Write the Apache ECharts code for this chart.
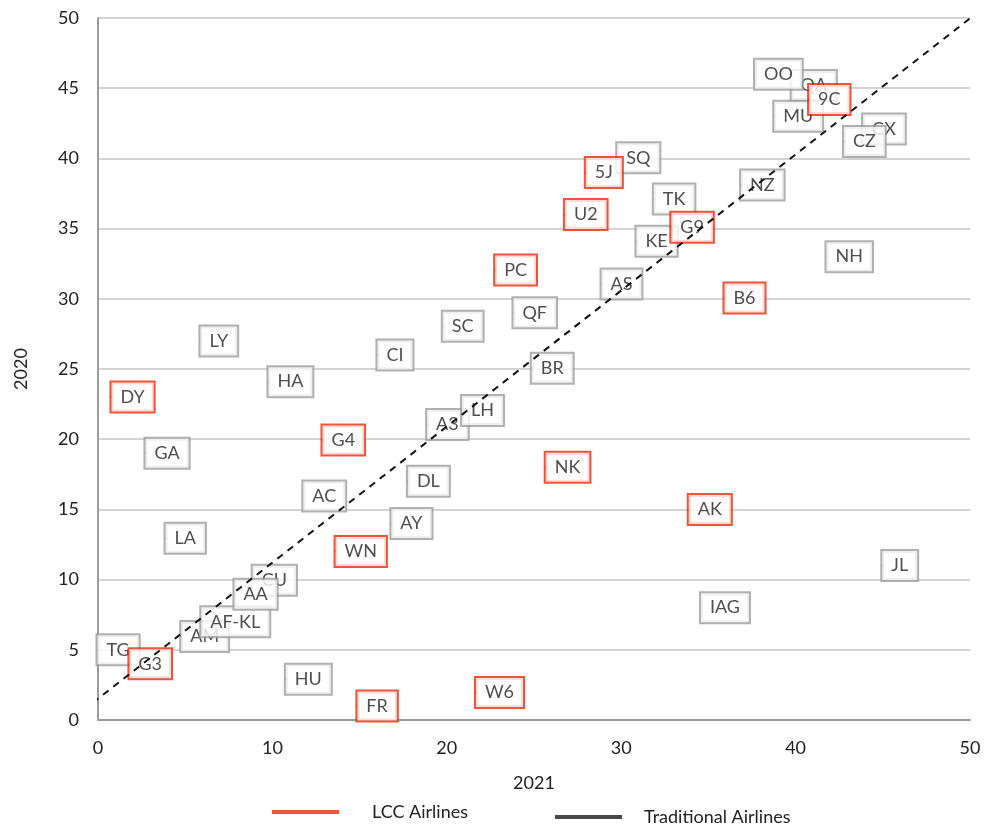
<!DOCTYPE html>
<html style="height: 100%">
<head>
	<meta charset="utf-8">
	<script src="https://cdn.jsdelivr.net/npm/echarts@6/dist/echarts.min.js"></script>
</head>
<body style="height: 100%; margin: 0; background: #fff">
	<div id="container" style="width: 987px; height: 825px"></div>
	<script type="text/javascript">
		// LCC airlines (red boxes)
		let lccNames = ['DY', 'G4', 'NK', 'AK', 'WN', 'G3', 'FR', 'W6', 'PC', 'B6', 'U2', '5J', 'G9', '9C'];
		let lccX = [0.8, 12.9, 25.7, 33.9, 13.65, 1.83, 14.9, 21.7, 22.8, 35.95, 26.8, 28.0, 32.9, 40.8];
		let lccY = [23.0, 19.95, 18.0, 15.0, 12.0, 4.0, 1.0, 1.95, 32.05, 30.05, 36.0, 39.0, 35.1, 44.2];

		// traditional airlines (grey boxes)
		let tradNames = ['QA', 'CX', 'CU', 'AM', 'TG', 'A3', 'TK', 'KE', 'SQ', 'NZ', 'AS', 'NH', 'QF', 'SC', 'BR',
			'CI', 'LY', 'HA', 'GA', 'DL', 'AC', 'AY', 'LA', 'JL', 'IAG', 'HU', 'AF-KL', 'AA', 'LH', 'OO', 'MU', 'CZ'];
		let tradX = [39.8, 43.9, 8.9, 4.8, 0, 18.9, 31.9, 30.9, 29.8, 36.9, 28.9, 41.8, 23.85, 19.8, 24.9,
			16.05, 5.9, 9.8, 2.75, 17.8, 11.8, 16.85, 3.9, 45.0, 34.6, 10.8, 5.95, 7.85, 20.9, 37.7, 38.8, 42.8];
		let tradY = [45.2, 42.1, 9.95, 5.95, 5.0, 21.05, 37.1, 34.1, 40.05, 38.1, 31.05, 33.0, 29.0, 28.05, 25.05,
			26.0, 27.0, 24.1, 19.0, 17.0, 15.95, 14.0, 12.95, 11.0, 8.0, 2.9, 7.0, 8.95, 22.05, 46.0, 43.0, 41.2];

		// dashed trend line ends
		let trendX = [-0.3, 50.1];
		let trendY = [1.23, 50.07];

		let xTicks = [0, 10, 20, 30, 40, 50];
		let yTicks = [0, 5, 10, 15, 20, 25, 30, 35, 40, 45, 50];

		let red = '#e8290b';
		let grey = '#9c9c9c';
		let font = 'Lato';

		function toPoints(names, xs, ys) {
			let pts = [];
			for (let i in names) {
				pts.push({ name: names[i], value: [xs[i], ys[i]] });
			}
			return pts;
		}

		function boxLabel(color) {
			return {
				show: true,
				formatter: '{b}',
				position: 'right',
				distance: -2,
				fontFamily: font,
				fontSize: 18,
				color: '#222',
				backgroundColor: '#fff',
				borderColor: color,
				borderWidth: 2,
				padding: [6, 9, 5, 9]
			};
		}

		function legendAt(left, top, gap, name, color) {
			return {
				left: left,
				top: top,
				padding: 0,
				itemWidth: 67,
				itemHeight: 4,
				icon: 'rect',
				textStyle: { fontFamily: font, fontSize: 18, color: '#222', padding: [0, 0, 0, gap] },
				data: [{ name: name, itemStyle: { color: color } }]
			};
		}

		let dom = document.getElementById('container');
		let myChart = echarts.init(dom);

		let trendData = [];
		for (let i in trendX) {
			trendData.push([trendX[i], trendY[i]]);
		}

		let option = {
			animation: false,
			textStyle: { fontFamily: font },
			grid: { left: 98, right: 17, top: 18, bottom: 105 },
			legend: [
				legendAt(272, 803, 28, 'LCC Airlines', red),
				legendAt(555, 808, 17, 'Traditional Airlines', '#1a1a1a')
			],
			xAxis: {
				type: 'value',
				min: xTicks[0],
				max: xTicks[xTicks.length - 1],
				interval: 10,
				name: '2021',
				nameLocation: 'middle',
				nameGap: 54,
				nameTextStyle: { fontSize: 18, color: '#222' },
				axisLine: { show: true, lineStyle: { color: grey, width: 2 } },
				axisTick: { show: false },
				splitLine: { show: false },
				axisLabel: { fontSize: 18, color: '#222', margin: 19 }
			},
			yAxis: {
				type: 'value',
				min: yTicks[0],
				max: yTicks[yTicks.length - 1],
				interval: 5,
				name: '2020',
				nameLocation: 'middle',
				nameGap: 68,
				nameTextStyle: { fontSize: 18, color: '#222' },
				axisLine: { show: true, lineStyle: { color: grey, width: 2 } },
				axisTick: { show: false },
				splitLine: { show: true, lineStyle: { color: '#d4d4d4', width: 2 } },
				axisLabel: { fontSize: 18, color: '#222', margin: 19 }
			},
			series: [
				{
					name: 'Traditional Airlines',
					type: 'scatter',
					z: 2,
					symbol: 'circle',
					symbolSize: 3,
					itemStyle: { color: grey },
					label: boxLabel(grey),
					data: toPoints(tradNames, tradX, tradY)
				},
				{
					name: 'LCC Airlines',
					type: 'scatter',
					z: 3,
					symbol: 'circle',
					symbolSize: 3,
					itemStyle: { color: red },
					label: boxLabel(red),
					data: toPoints(lccNames, lccX, lccY)
				},
				{
					name: 'trend',
					type: 'line',
					z: 10,
					clip: false,
					symbol: 'none',
					silent: true,
					lineStyle: { color: '#111', width: 2, type: [7, 6] },
					data: trendData
				}
			]
		};

		myChart.setOption(option);
	</script>
</body>
</html>
